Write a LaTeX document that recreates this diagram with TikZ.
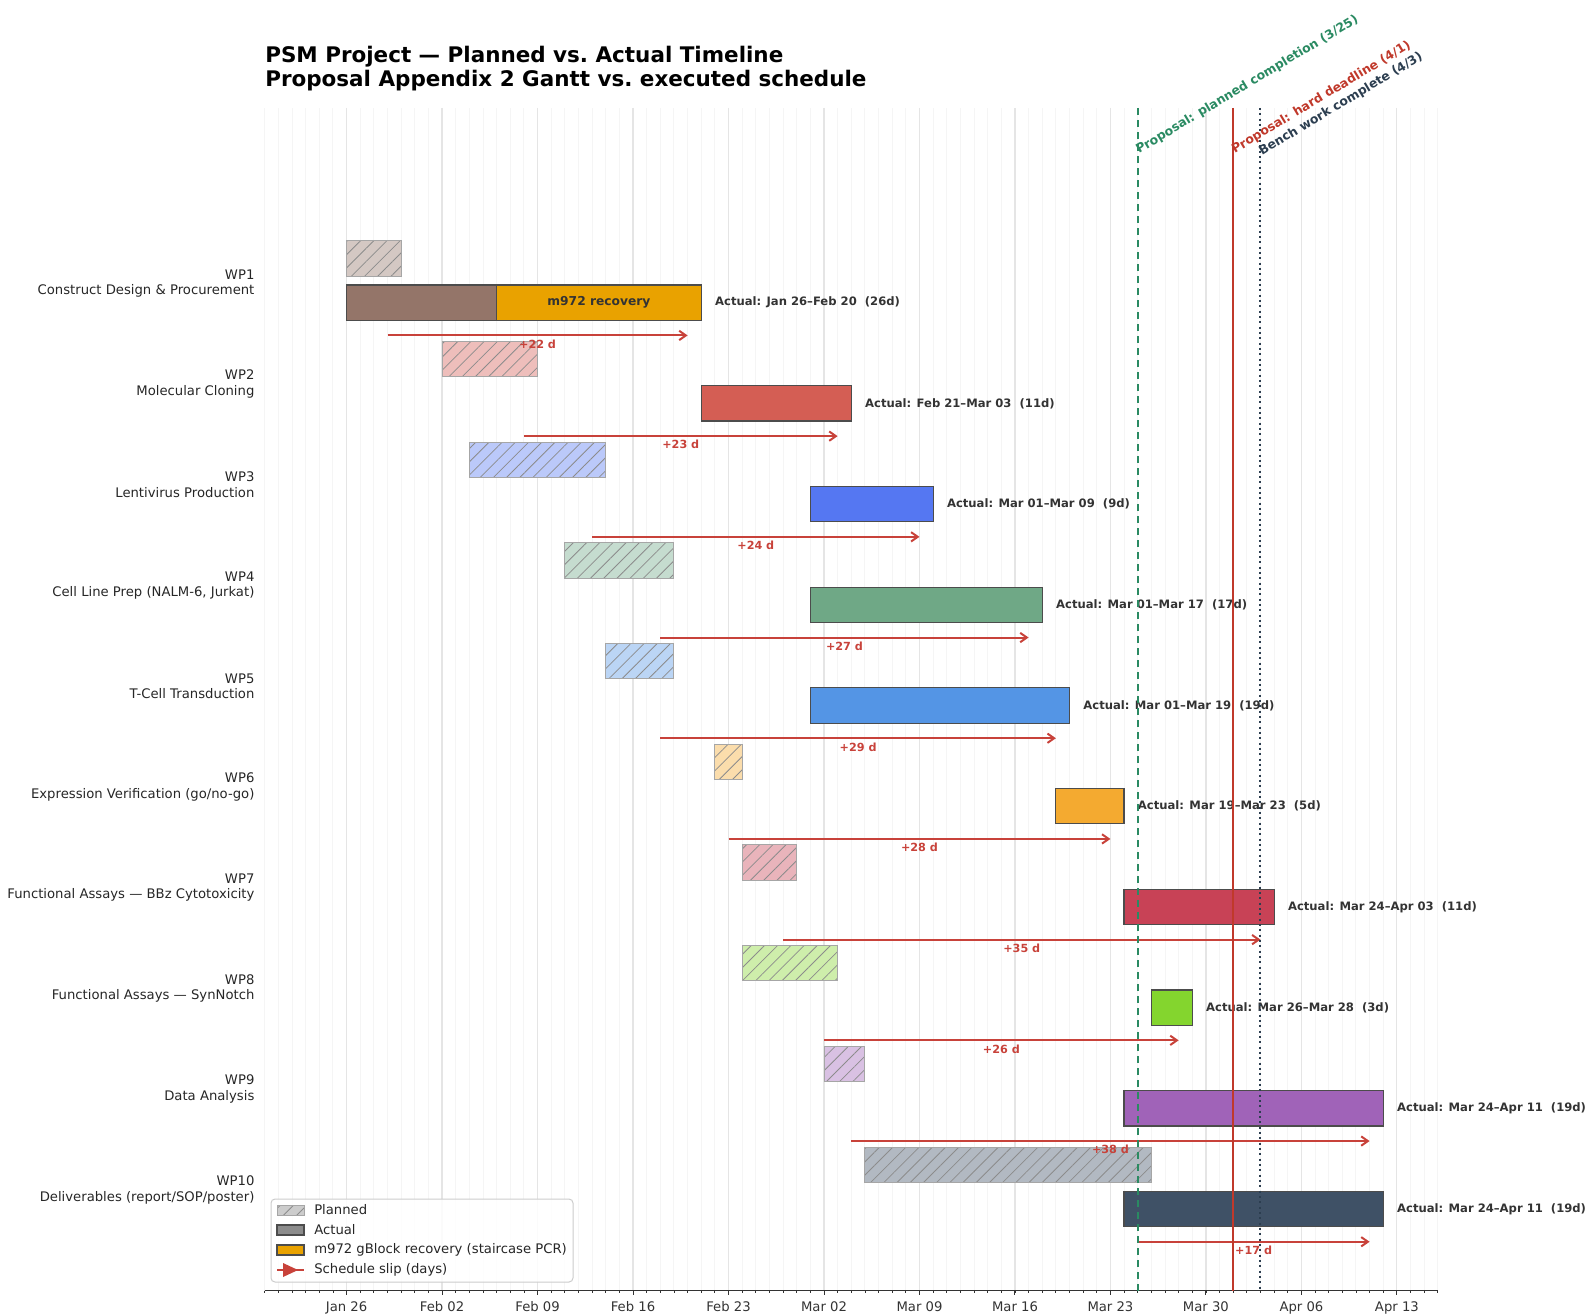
\documentclass[tikz,border=0pt]{standalone}
\usepackage{fontspec}
\setmainfont{DejaVu Sans}
\usetikzlibrary{arrows.meta,patterns.meta}
\definecolor{wp1}{HTML}{947569}
\definecolor{wp2}{HTML}{D45E54}
\definecolor{wp3}{HTML}{5577F2}
\definecolor{wp4}{HTML}{6FA886}
\definecolor{wp5}{HTML}{5495E5}
\definecolor{wp6}{HTML}{F4AA30}
\definecolor{wp7}{HTML}{C84256}
\definecolor{wp8}{HTML}{84D52E}
\definecolor{wp9}{HTML}{A063B8}
\definecolor{wp10}{HTML}{3F5166}
\definecolor{recov}{HTML}{E9A200}
\definecolor{slipred}{HTML}{C8423A}
\definecolor{deadred}{HTML}{C0392B}
\definecolor{plangreen}{HTML}{2A8A62}
\definecolor{benchblue}{HTML}{2C3E50}
\def\wpdata{
  1/0/4/0/26/{Construct Design \& Procurement}/{Jan 26–Feb 20},
  2/7/14/26/37/{Molecular Cloning}/{Feb 21–Mar 03},
  3/9/19/34/43/{Lentivirus Production}/{Mar 01–Mar 09},
  4/16/24/34/51/{Cell Line Prep (NALM-6, Jurkat)}/{Mar 01–Mar 17},
  5/19/24/34/53/{T-Cell Transduction}/{Mar 01–Mar 19},
  6/27/29/52/57/{Expression Verification (go/no-go)}/{Mar 19–Mar 23},
  7/29/33/57/68/{Functional Assays — BBz Cytotoxicity}/{Mar 24–Apr 03},
  8/29/36/59/62/{Functional Assays — SynNotch}/{Mar 26–Mar 28},
  9/35/38/57/76/{Data Analysis}/{Mar 24–Apr 11},
  10/38/59/57/76/{Deliverables (report/SOP/poster)}/{Mar 24–Apr 11}}

\begin{document}
\begin{tikzpicture}[x=0.75pt,y=-0.75pt,
    every node/.style={inner sep=0pt},
    ttl/.style={font=\bfseries\fontsize{16.1}{18}\selectfont,anchor=base west},
    wplab/.style={font=\fontsize{9.9}{11.6}\selectfont,text=black!85,align=right,anchor=east},
    actlab/.style={font=\bfseries\fontsize{8.7}{10}\selectfont,text=black!80,anchor=west},
    sliplab/.style={font=\bfseries\fontsize{8.4}{10}\selectfont,text=slipred,anchor=north},
    datelab/.style={font=\fontsize{9.9}{11.6}\selectfont,text=black!80,anchor=north},
    mstone/.style={font=\bfseries\fontsize{9.3}{11}\selectfont,anchor=base west,rotate=31},
    leglab/.style={font=\fontsize{9.9}{11.6}\selectfont,text=black!85,anchor=west},
    hatch/.style={pattern={Lines[angle=45,distance=7pt,line width=0.6pt]},pattern color=black!45},
    plan/.style={draw=black!35,line width=0.75pt},
    actual/.style={draw=black!70,line width=0.9pt},
    slip/.style={slipred,line width=1.5pt,-{Straight Barb[length=5pt,width=7pt]}}]
\useasboundingbox (0,0) rectangle (1585,1314);
\node[ttl] (title1) at (265,62.4) {PSM Project — Planned vs.\ Actual Timeline};
\node[ttl] (title2) at (265,86.7) {Proposal Appendix 2 Gantt vs.\ executed schedule};

\begin{scope}[shift={(346.6,179.85)},x=10.23pt,y=-75.525pt]
\foreach \d in {-6,...,80} \draw[black!4,line width=0.75pt] (\d,-0.714) -- (\d,11.031);
\foreach \d in {0,7,...,77} \draw[black!10,line width=0.9pt] (\d,-0.714) -- (\d,11.031);
\draw[black!80,line width=0.8pt] (-6,11.031) -- (80,11.031);
\foreach \d in {-6,...,80} \draw[black!80,line width=0.6pt] (\d,11.031) -- ++(0pt,-1.9pt);
\foreach \d/\t in {0/Jan 26,7/Feb 02,14/Feb 09,21/Feb 16,28/Feb 23,35/Mar 02,42/Mar 09,49/Mar 16,56/Mar 23,63/Mar 30,70/Apr 06,77/Apr 13}{
  \draw[black!80,line width=0.75pt] (\d,11.031) -- ++(0pt,-3.4pt);
  \node[datelab] (date\d) at (\d,11.031) [yshift=-7.7pt] {\t};
}

\foreach \i/\ps/\pe/\as/\ae/\name/\act in \wpdata {
  \pgfmathtruncatemacro\len{\ae-\as}
  \node[wplab] (wp\i) at (-6.74,\i) [yshift=-2.2pt] {WP\i\\\name};
  \fill[wp\i!40] (\ps,\i-0.395) rectangle (\pe,\i-0.045);
  \path[hatch] (\ps,\i-0.395) rectangle (\pe,\i-0.045);
  \draw[plan] (\ps,\i-0.395) rectangle (\pe,\i-0.045);
  \filldraw[actual,fill=wp\i] (\as,\i+0.045) rectangle (\ae,\i+0.395);
  \node[actlab] (act\i) at (\ae+1,\i+0.22) {Actual: \act\ \ (\len d)};
}
\filldraw[actual,fill=recov] (11,1.045) rectangle (26,1.395);
\node[font=\bfseries\fontsize{9.2}{11}\selectfont,text=black!80] (recov) at (18.5,1.22) {m972 recovery};

\foreach \i/\ps/\pe/\as/\ae/\name/\act in \wpdata {
  \pgfmathtruncatemacro\slip{\ae-\pe}
  \draw[slip] (\pe-1,\i+0.545) -- (\ae-1,\i+0.545);
  \node[sliplab] (slip\i) at ({(\pe+\ae)/2-1},\i+0.545) [yshift=-3pt] {+\slip\ d};
}

\draw[plangreen,line width=1.5pt,dash pattern=on 5.6pt off 3.4pt] (58,-0.714) -- (58,11.031);
\draw[deadred,line width=1.9pt] (65,-0.714) -- (65,11.031);
\draw[benchblue,line width=1.5pt,dash pattern=on 1.5pt off 2.5pt] (67,-0.714) -- (67,11.031);
\node[mstone,text=plangreen] (m58) at (58,-0.25) [xshift=1pt] {Proposal: planned completion (3/25)};
\node[mstone,text=deadred] (m65) at (65,-0.25) [xshift=1.2pt] {Proposal: hard deadline (4/1)};
\node[mstone,text=benchblue] (m67) at (67,-0.23) [xshift=1.2pt] {Bench work complete (4/3)};
\end{scope}

\draw[black!20,fill=white,fill opacity=0.85,rounded corners=3pt,line width=0.75pt] (271,1199) rectangle (573,1282);
\fill[black!20] (277,1205) rectangle (304,1215);
\path[hatch] (277,1205) rectangle (304,1215);
\draw[plan] (277,1205) rectangle (304,1215);
\node[leglab] (lplan) at (314,1210) {Planned};
\filldraw[actual,fill=black!45] (277,1225) rectangle (304,1235);
\node[leglab] (lact) at (314,1230) {Actual};
\filldraw[actual,fill=recov] (277,1245) rectangle (304,1255);
\node[leglab] (lrec) at (314,1250) {m972 gBlock recovery (staircase PCR)};
\draw[slipred,line width=1.5pt] (277,1270) -- (304,1270);
\fill[slipred] (283,1263) -- (298,1270) -- (283,1277) -- cycle;
\node[leglab] (lslip) at (314,1270) {Schedule slip (days)};
\end{tikzpicture}
\end{document}
